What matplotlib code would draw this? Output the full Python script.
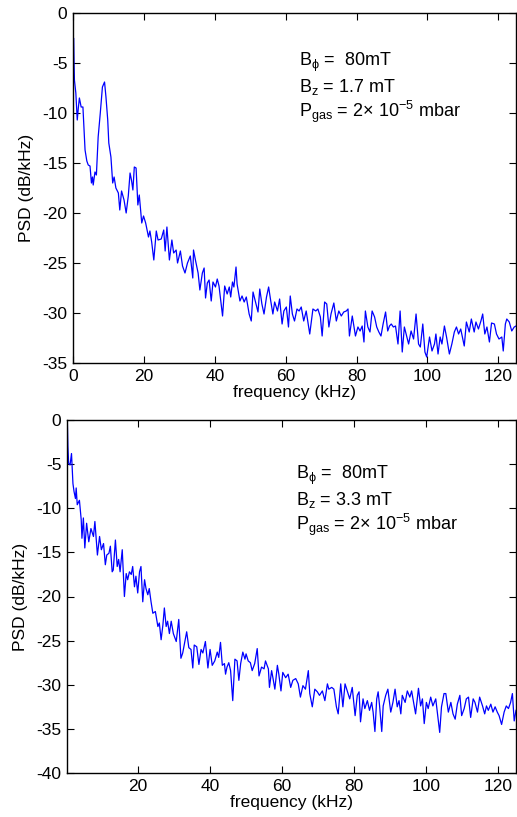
import matplotlib
matplotlib.use('Agg')
import matplotlib.pyplot as plt

plt.rcParams['font.family'] = ['Liberation Sans', 'DejaVu Sans']
plt.rcParams['mathtext.fontset'] = 'custom'
plt.rcParams['mathtext.rm'] = 'Liberation Sans'
plt.rcParams['mathtext.it'] = 'Liberation Sans'
plt.rcParams['axes.unicode_minus'] = False

#%% DATA

# top panel: B_z = 1.7 mT
f_top = [0.0, 0.15, 0.4, 0.8, 1.2, 1.5, 1.8, 2.3, 2.8, 3.4, 3.9, 4.3, 4.8, 5.2, 5.5, 5.7,
         6.2, 6.6, 7.1, 7.7, 8.3, 8.9, 9.3, 9.8, 10.1, 10.7, 11.2, 11.6, 12.1, 12.8, 13.2,
         13.7, 14.4, 15.0, 15.6, 16.1, 16.5, 16.9, 17.3, 17.8, 18.3, 18.7, 19.4, 19.9,
         20.5, 21.3, 21.7, 22.2, 22.8, 23.5, 24.0, 24.9, 25.6, 26.0, 26.5, 27.2, 27.9,
         28.4, 29.1, 29.5, 30.3, 30.9, 31.6, 32.3, 33.1, 33.8, 34.0, 34.6, 35.3, 35.8,
         36.5, 37.0, 37.4, 37.9, 38.4, 39.0, 39.5, 40.2, 40.7, 41.2, 42.2, 42.8, 43.5,
         44.1, 44.5, 45.0, 45.4, 46.0, 46.3, 47.1, 47.7, 48.3, 48.9, 49.7, 50.3, 50.8,
         51.5, 52.2, 52.7, 53.3, 53.9, 54.6, 55.2, 55.8, 56.4, 56.9, 57.7, 58.3, 59.0,
         59.5, 60.2, 60.8, 61.3, 61.9, 62.5, 63.2, 63.8, 64.4, 65.1, 65.8, 66.8, 67.7,
         68.5, 69.1, 69.8, 70.3, 71.0, 71.6, 72.2, 72.8, 73.6, 74.3, 75.0, 75.7, 76.4,
         77.1, 77.6, 78.0, 78.8, 79.7, 80.4, 81.0, 81.6, 82.1, 82.5, 83.2, 83.8, 84.4,
         85.1, 85.7, 86.3, 86.9, 87.5, 88.2, 88.8, 89.3, 89.8, 90.4, 91.0, 91.7, 92.3,
         92.9, 93.5, 94.2, 94.7, 95.4, 96.1, 96.8, 97.5, 98.0, 98.7, 99.3, 99.8, 100.6,
         101.3, 102.0, 102.4, 103.0, 103.6, 104.1, 104.8, 105.4, 106.2, 106.9, 107.6,
         108.2, 108.8, 109.4, 110.4, 111.0, 111.8, 112.4, 113.2, 113.7, 114.4, 115.1,
         115.6, 116.2, 116.8, 117.5, 118.1, 118.9, 119.5, 120.2, 121.0, 121.4, 122.0,
         122.4, 123.1, 123.8, 124.5, 125.0]
psd_top = [-12.0, -2.5, -6.7, -8.0, -10.7, -9.5, -8.5, -9.4, -9.4, -13.7, -14.8, -15.2, -15.3,
           -17.0, -16.4, -17.2, -15.9, -16.2, -12.4, -10.0, -7.4, -6.9, -8.4, -10.7, -13.0,
           -14.4, -17.0, -16.4, -17.5, -18.0, -19.7, -17.8, -18.7, -20.0, -18.3, -16.0,
           -16.7, -17.7, -15.4, -15.5, -19.2, -18.2, -21.0, -20.3, -21.0, -22.4, -21.8,
           -22.9, -24.7, -21.8, -22.7, -22.6, -21.7, -23.8, -21.4, -24.7, -22.7, -24.0,
           -23.7, -25.0, -23.8, -25.3, -26.0, -25.0, -24.3, -26.5, -23.7, -24.8, -26.0,
           -27.7, -26.0, -25.5, -28.5, -27.0, -26.7, -28.8, -26.9, -27.4, -26.6, -27.3,
           -30.3, -27.3, -28.1, -27.4, -28.4, -26.9, -27.4, -25.4, -27.1, -28.8, -28.3,
           -28.9, -28.4, -30.1, -30.8, -27.9, -28.9, -29.9, -27.6, -29.1, -30.1, -28.4,
           -27.4, -28.8, -30.1, -28.9, -29.8, -28.6, -31.1, -29.8, -29.4, -31.4, -28.3,
           -30.1, -30.8, -29.6, -29.8, -29.4, -30.8, -29.8, -32.1, -29.6, -29.8, -29.6,
           -30.4, -32.3, -28.9, -29.1, -31.4, -30.1, -29.0, -30.8, -29.8, -30.3, -29.9,
           -29.8, -29.6, -32.3, -30.3, -32.3, -31.4, -31.8, -31.3, -32.9, -29.8, -31.4,
           -31.9, -29.8, -30.4, -31.4, -31.9, -32.3, -31.1, -29.9, -31.8, -31.3, -31.1,
           -31.4, -31.3, -33.1, -29.8, -33.9, -31.4, -32.4, -33.1, -31.8, -32.6, -30.1,
           -33.1, -33.4, -31.1, -33.9, -34.4, -32.4, -33.8, -33.1, -32.1, -34.1, -32.4,
           -33.1, -31.3, -32.4, -34.1, -33.1, -31.9, -31.4, -32.1, -31.6, -33.3, -30.9,
           -31.9, -30.6, -31.9, -30.9, -31.6, -30.8, -30.1, -32.1, -31.4, -32.9, -31.0,
           -31.1, -32.1, -32.6, -32.4, -33.8, -31.1, -30.6, -30.9, -31.8, -31.4, -31.3]

# bottom panel: B_z = 3.3 mT
f_bot = [0.25, 0.35, 0.5, 0.7, 1.1, 1.5, 1.9, 2.2, 2.6, 2.8, 3.1, 3.7, 4.2, 4.4, 4.8, 5.2,
         5.7, 6.3, 6.9, 7.6, 8.0, 8.7, 9.3, 9.8, 10.4, 10.9, 11.3, 11.9, 12.3, 12.8, 13.1,
         13.7, 14.2, 14.6, 15.0, 15.6, 16.2, 16.7, 17.1, 17.6, 18.1, 18.5, 19.0, 19.4,
         19.9, 20.4, 20.8, 21.3, 21.8, 22.2, 22.7, 23.1, 23.6, 24.1, 24.8, 25.5, 25.9,
         26.4, 26.9, 27.3, 27.8, 28.2, 28.7, 29.2, 29.8, 30.6, 31.3, 31.9, 32.4, 33.0,
         33.5, 34.1, 34.7, 35.2, 35.6, 36.3, 36.9, 37.5, 38.0, 38.7, 39.4, 40.0, 40.6,
         41.3, 42.0, 42.4, 42.9, 43.4, 44.0, 44.3, 44.7, 45.2, 45.7, 46.3, 46.9, 47.5,
         48.0, 48.5, 49.1, 49.7, 50.0, 50.6, 51.2, 51.7, 52.4, 53.1, 53.6, 54.3, 55.0,
         55.4, 56.2, 56.5, 57.1, 57.5, 58.0, 58.7, 59.1, 59.7, 60.2, 61.0, 61.7, 62.4,
         63.0, 63.8, 64.5, 65.1, 65.8, 66.5, 67.3, 67.7, 68.4, 69.1, 69.8, 70.4, 71.2,
         71.9, 72.6, 73.0, 73.8, 74.4, 75.1, 75.6, 76.3, 76.9, 77.5, 78.1, 78.8, 79.5,
         80.3, 80.9, 81.4, 81.8, 82.5, 83.0, 83.7, 84.3, 84.9, 85.3, 85.8, 86.3, 86.7,
         87.1, 87.7, 88.1, 88.8, 89.4, 90.2, 90.8, 91.4, 92.0, 92.5, 93.0, 93.4, 94.2,
         94.8, 95.5, 96.0, 96.7, 97.1, 97.9, 98.5, 99.0, 99.5, 100.1, 100.6, 101.3,
         101.9, 102.7, 103.2, 103.8, 104.3, 105.0, 105.5, 106.2, 106.9, 107.5, 108.1,
         108.7, 109.4, 109.9, 110.6, 111.2, 111.8, 112.4, 113.1, 113.6, 114.3, 114.9,
         115.7, 116.3, 116.8, 117.3, 118.0, 118.6, 119.2, 119.8, 120.3, 121.0, 121.7,
         122.3, 122.9, 123.5, 124.0, 124.5, 125.0]
psd_bot = [-7.5, -0.2, -3.0, -4.9, -5.1, -3.8, -7.2, -8.1, -8.9, -7.7, -9.6, -9.1, -11.3,
           -13.4, -11.1, -14.5, -11.7, -13.8, -12.3, -13.2, -11.5, -15.3, -13.2, -14.7,
           -14.0, -16.4, -15.3, -15.1, -14.3, -17.2, -17.0, -13.6, -16.6, -15.8, -17.2,
           -14.7, -20.0, -17.4, -18.1, -17.2, -17.5, -16.6, -18.9, -17.7, -19.6, -17.2,
           -16.6, -20.6, -18.1, -19.1, -19.8, -19.1, -20.6, -21.9, -21.7, -23.4, -23.0,
           -24.9, -23.2, -21.3, -23.4, -22.8, -24.2, -22.8, -24.2, -25.1, -22.6, -27.0,
           -26.4, -25.1, -24.0, -25.8, -26.0, -28.1, -25.5, -25.7, -27.7, -26.0, -26.4,
           -25.1, -28.1, -26.0, -27.8, -27.3, -26.3, -26.9, -25.2, -27.8, -27.6, -28.8,
           -28.0, -27.5, -28.4, -31.8, -27.1, -27.3, -29.5, -27.6, -26.3, -27.1, -26.5,
           -27.3, -27.5, -28.4, -27.6, -25.9, -29.0, -28.0, -28.2, -27.3, -28.2, -30.3,
           -28.4, -29.3, -30.5, -27.8, -28.8, -30.7, -28.6, -29.2, -28.8, -30.3, -29.5,
           -29.3, -29.9, -31.4, -30.1, -30.5, -28.4, -31.0, -32.5, -30.5, -30.8, -31.2,
           -30.7, -31.8, -29.9, -30.5, -30.3, -30.5, -32.5, -33.3, -29.9, -32.5, -29.9,
           -30.7, -31.6, -30.3, -33.5, -31.2, -30.8, -34.2, -31.6, -32.7, -31.8, -32.9,
           -32.0, -33.1, -35.3, -31.6, -30.8, -32.4, -35.3, -32.4, -31.2, -30.5, -33.1,
           -32.0, -30.5, -32.5, -31.8, -33.3, -31.2, -32.0, -30.7, -31.4, -30.7, -32.4,
           -33.3, -30.4, -32.4, -31.6, -34.4, -32.0, -32.7, -31.4, -32.4, -31.6, -33.3,
           -35.4, -32.5, -31.0, -31.0, -33.1, -32.0, -33.3, -33.9, -32.2, -31.2, -33.5,
           -32.7, -31.6, -31.4, -33.7, -31.6, -32.0, -33.1, -31.4, -32.4, -33.3, -32.4,
           -32.9, -32.2, -33.1, -32.5, -33.1, -33.5, -34.5, -33.1, -32.4, -32.7, -32.0,
           -31.0, -34.1, -32.9]

labels_top = [r'B$_{\phi}$ =  80mT', r'B$_{z}$ = 1.7 mT', r'P$_{\rm gas}$ = 2$\times$ 10$^{-5}$ mbar']
labels_bot = [r'B$_{\phi}$ =  80mT', r'B$_{z}$ = 3.3 mT', r'P$_{\rm gas}$ = 2$\times$ 10$^{-5}$ mbar']

#%% FIGURE

W, H = 517, 817
fig = plt.figure(figsize=(W / 100, H / 100), dpi=100)

def px_axes(left, top, right, bottom):
    return fig.add_axes([left / W, 1 - bottom / H, (right - left) / W, (bottom - top) / H])

def style(ax, xlim, ylim, xticks, yticks):
    ax.set_xlim(*xlim)
    ax.set_ylim(*ylim)
    ax.set_xticks(xticks)
    ax.set_yticks(yticks)
    ax.tick_params(direction='in', top=True, right=True, length=5, width=0.8, labelsize=12.5, pad=4)
    for s in ax.spines.values():
        s.set_linewidth(1.0)
    ax.set_xlabel('frequency (kHz)', fontsize=12.5, labelpad=1)
    ax.set_ylabel('PSD (dB/kHz)', fontsize=12.5, labelpad=6)

ax1 = px_axes(73, 13, 516, 363)
ax1.plot(f_top, psd_top, color='blue', linewidth=0.9)
style(ax1, (0, 125), (-35, 0), range(0, 121, 20), range(-35, 1, 5))

ax2 = px_axes(67, 420, 516, 773)
ax2.plot(f_bot, psd_bot, color='blue', linewidth=0.9)
style(ax2, (0.25, 125), (-40, 0), range(20, 121, 20), range(-40, 1, 5))

for i, s in enumerate(labels_top):
    fig.text(299 / W, 1 - (62 + 25 * i) / H, s, fontsize=13, va='center')
for i, s in enumerate(labels_bot):
    fig.text(296 / W, 1 - (475 + 25 * i) / H, s, fontsize=13, va='center')

fig.savefig('out.png', dpi=100)
